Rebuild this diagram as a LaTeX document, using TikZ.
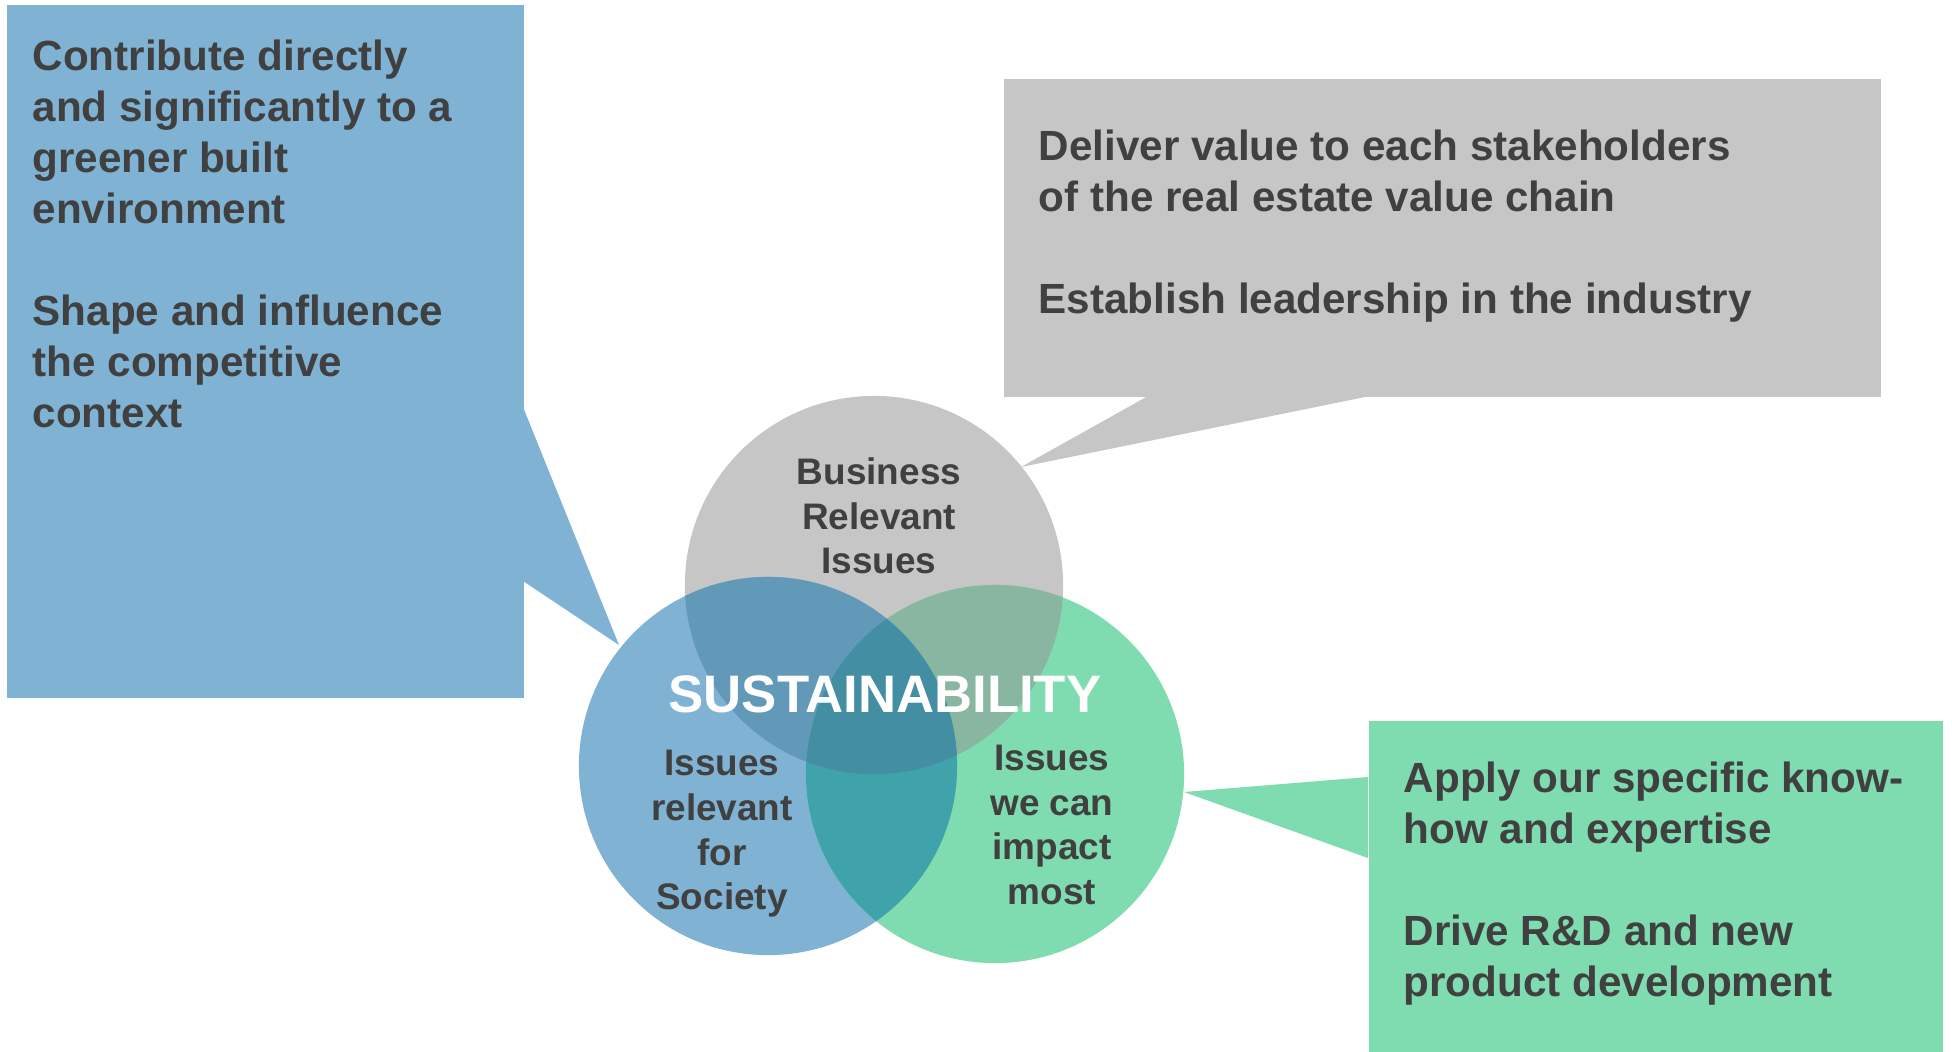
\documentclass[tikz,border=0pt]{standalone}
\usepackage{fontspec}
\setmainfont{Liberation Sans}
\usetikzlibrary{positioning}
\definecolor{societyblue}{HTML}{7FB2D3}
\definecolor{businessgray}{HTML}{C6C6C6}
\definecolor{impactgreen}{HTML}{7FDBB0}
\definecolor{blueongray}{HTML}{6399B8}
\definecolor{greenongray}{HTML}{88B6A0}
\definecolor{blueongreen}{HTML}{40A2AA}
\definecolor{allthree}{HTML}{438EA3}
\definecolor{labeltext}{HTML}{404040}

\begin{document}
\begin{tikzpicture}[
	x=0.01cm, y=-0.01cm,
	panel/.style={rectangle, inner sep=0pt, anchor=north west},
	panel text/.style={inner sep=0pt, align=left, text=labeltext,
		font=\fontsize{12}{14.5}\selectfont\bfseries},
	venn/.style={circle, inner sep=0pt, minimum size=3.78cm},
	venn label/.style={inner sep=0pt, align=center, text=labeltext,
		font=\fontsize{10.5}{12.7}\selectfont\bfseries}
	]
	\useasboundingbox (0,0) rectangle (1952,1051);
	% panels
	\node[panel, fill=societyblue, minimum width=5.17cm, minimum height=6.93cm] (societybox) at (6,4) {};
	\node[panel, fill=businessgray, minimum width=8.77cm, minimum height=3.18cm] (businessbox) at (1003,78) {};
	\node[panel, fill=impactgreen, minimum width=5.74cm, minimum height=3.31cm] (impactbox) at (1368,720) {};
	% pointers
	\coordinate (societytip) at (619,645);
	\coordinate (businesstip) at (1021,467);
	\coordinate (impacttip) at (1184,792);
	\fill[societyblue] (523,407) -- (societytip) -- (523,581) -- cycle;
	\fill[businessgray] (1148,396) -- (businesstip) -- (1370,396) -- cycle;
	\fill[impactgreen] (1368,777) -- (impacttip) -- (1368,858) -- cycle;
	% panel texts
	\node[panel text, below right=0.35cm and 0.26cm of societybox.north west] (societytext)
	{Contribute directly\\ and significantly to a\\ greener built\\ environment\\[14.5pt]
		Shape and influence\\ the competitive\\ context};
	\node[panel text, below right=0.51cm and 0.35cm of businessbox.north west] (businesstext)
	{Deliver value to each stakeholders\\ of the real estate value chain\\[14.5pt]
		Establish leadership in the industry};
	\node[panel text, below right=0.41cm and 0.35cm of impactbox.north west] (impacttext)
	{Apply our specific know-\\ how and expertise\\[14.5pt]
		Drive R\&D and new\\ product development};
	% circles
	\node[venn, fill=businessgray] (business) at (874,585) {};
	\node[venn, fill=societyblue] (society) at (768,766) {};
	\node[venn, fill=impactgreen] (impact) at (995,774) {};
	% overlaps
	\begin{scope}
		\clip (business.center) circle (1.89cm);
		\fill[blueongray] (society.center) circle (1.89cm);
		\fill[greenongray] (impact.center) circle (1.89cm);
	\end{scope}
	\begin{scope}
		\clip (society.center) circle (1.89cm);
		\fill[blueongreen] (impact.center) circle (1.89cm);
		\clip (business.center) circle (1.89cm);
		\fill[allthree] (impact.center) circle (1.89cm);
	\end{scope}
	% labels
	\node[venn label] (businesslabel) at (879,516) {Business\\ Relevant\\ Issues};
	\node[venn label] (societylabel) at (722,834) {Issues\\ relevant\\ for\\ Society};
	\node[venn label] (impactlabel) at (1052,825) {Issues\\ we can\\ impact\\ most};
	\node[inner sep=0pt, text=white, font=\fontsize{15}{18}\selectfont\bfseries] (core) at (885,694) {SUSTAINABILITY};
\end{tikzpicture}
\end{document}
